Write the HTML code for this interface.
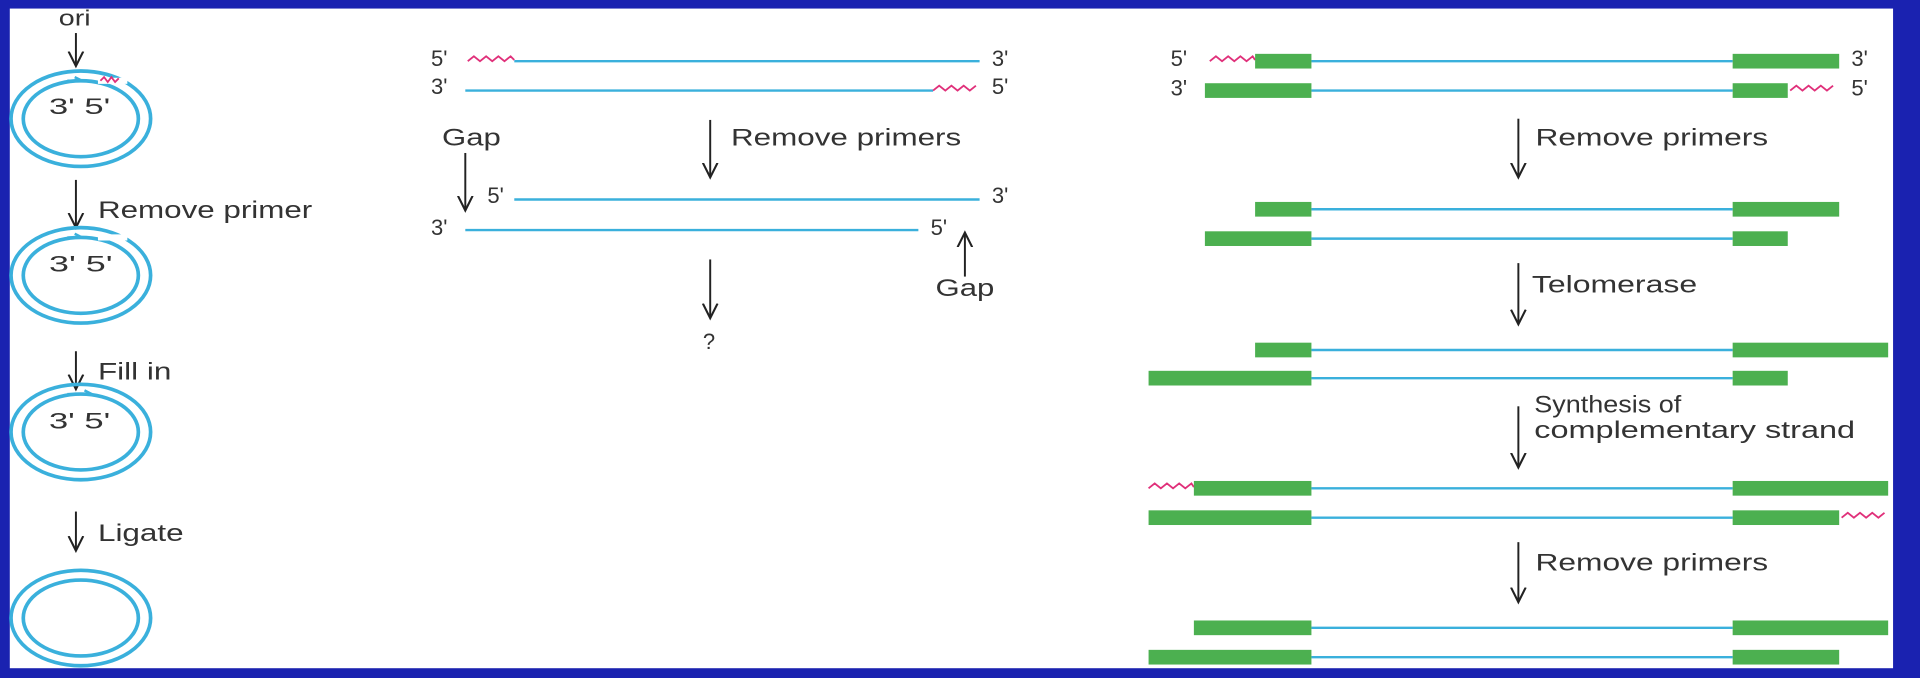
<!DOCTYPE html>
<html><head><style>html,body{margin:0;padding:0;background:#1a22b0;}svg{display:block}</style></head>
<body>
<svg width="1920" height="678" viewBox="0 0 1568 554" preserveAspectRatio="none" xmlns="http://www.w3.org/2000/svg" font-family="Liberation Sans, sans-serif" fill="#333">
<rect x="0" y="0" width="1568" height="554" fill="#1a22b0"/>
<rect x="8" y="7" width="1538" height="539" fill="#fff"/>
<defs>
<marker id="ah" markerWidth="14" markerHeight="14" refX="12" refY="7" orient="auto" markerUnits="userSpaceOnUse">
<path d="M0,1 L12,7 L0,13" fill="none" stroke="#222" stroke-width="1.7"/></marker>
</defs>
<g stroke="#222" stroke-width="1.6" fill="none">
<line x1="62" y1="27" x2="62" y2="54" marker-end="url(#ah)"/>
<line x1="62" y1="147" x2="62" y2="186" marker-end="url(#ah)"/>
<line x1="62" y1="287" x2="62" y2="318" marker-end="url(#ah)"/>
<line x1="62" y1="418" x2="62" y2="450" marker-end="url(#ah)"/>
<line x1="380" y1="125" x2="380" y2="172" marker-end="url(#ah)"/>
<line x1="580" y1="98" x2="580" y2="145" marker-end="url(#ah)"/>
<line x1="580" y1="212" x2="580" y2="260" marker-end="url(#ah)"/>
<line x1="788" y1="226" x2="788" y2="190" marker-end="url(#ah)"/>
<line x1="1240" y1="97" x2="1240" y2="145" marker-end="url(#ah)"/>
<line x1="1240" y1="215" x2="1240" y2="265" marker-end="url(#ah)"/>
<line x1="1240" y1="332" x2="1240" y2="382" marker-end="url(#ah)"/>
<line x1="1240" y1="443" x2="1240" y2="492" marker-end="url(#ah)"/>
</g>
<g stroke="#3ab0dc" stroke-width="3" fill="none">
<ellipse cx="66" cy="97" rx="57" ry="39"/><ellipse cx="66" cy="97" rx="47" ry="31"/>
<ellipse cx="66" cy="225" rx="57" ry="39"/><ellipse cx="66" cy="225" rx="47" ry="31"/>
<ellipse cx="66" cy="353" rx="57" ry="39"/><ellipse cx="66" cy="353" rx="47" ry="31"/>
<ellipse cx="66" cy="505" rx="57" ry="39"/><ellipse cx="66" cy="505" rx="47" ry="31"/>
</g>
<g stroke="#fff" stroke-width="5"><line x1="80" y1="66" x2="104" y2="66"/><line x1="80" y1="194" x2="104" y2="194"/></g>
<path d="M82,66 l3,-3 3,4 3,-4 3,4 3,-3" stroke="#e0307a" stroke-width="1.5" fill="none"/>
<g stroke="#3ab0dc" stroke-width="2" fill="none"><path d="M55,66 l12,0 l-6,-3"/><path d="M55,194 l12,0 l-6,-3"/><path d="M55,322 l20,0 l-6,-3"/></g>
<g font-size="18">
<text x="48" y="21" textLength="26" lengthAdjust="spacingAndGlyphs">ori</text>
<text x="40" y="93" textLength="50" lengthAdjust="spacingAndGlyphs">3' 5'</text>
<text x="40" y="222" textLength="52" lengthAdjust="spacingAndGlyphs">3'  5'</text>
<text x="40" y="350" textLength="50" lengthAdjust="spacingAndGlyphs">3' 5'</text>
<g font-size="20">
<text x="80" y="178" textLength="175" lengthAdjust="spacingAndGlyphs">Remove primer</text>
<text x="80" y="310" textLength="60" lengthAdjust="spacingAndGlyphs">Fill in</text>
<text x="80" y="442" textLength="70" lengthAdjust="spacingAndGlyphs">Ligate</text>
<text x="361" y="119" textLength="48" lengthAdjust="spacingAndGlyphs">Gap</text>
<text x="597" y="119" textLength="188" lengthAdjust="spacingAndGlyphs">Remove primers</text>
<text x="764" y="242" textLength="48" lengthAdjust="spacingAndGlyphs">Gap</text>
<text x="1254" y="119" textLength="190" lengthAdjust="spacingAndGlyphs">Remove primers</text>
<text x="1251" y="239" textLength="135" lengthAdjust="spacingAndGlyphs">Telomerase</text>
<text x="1253" y="337" textLength="120" lengthAdjust="spacingAndGlyphs">Synthesis of</text>
<text x="1253" y="358" textLength="262" lengthAdjust="spacingAndGlyphs">complementary strand</text>
<text x="1254" y="466" textLength="190" lengthAdjust="spacingAndGlyphs">Remove primers</text>
</g>
<text x="352" y="54">5'</text><text x="352" y="77">3'</text>
<text x="810" y="54">3'</text><text x="810" y="77">5'</text>
<text x="398" y="166">5'</text><text x="810" y="166">3'</text>
<text x="352" y="192">3'</text><text x="760" y="192">5'</text>
<text x="574" y="285">?</text>
<text x="956" y="54">5'</text><text x="956" y="78">3'</text>
<text x="1512" y="54">3'</text><text x="1512" y="78">5'</text>
</g>
<g stroke="#3ab0dc" stroke-width="2">
<line x1="420" y1="50" x2="800" y2="50"/><line x1="380" y1="74" x2="762" y2="74"/>
<line x1="420" y1="163" x2="800" y2="163"/><line x1="380" y1="188" x2="750" y2="188"/>
<line x1="1071" y1="50" x2="1415" y2="50"/><line x1="1071" y1="74" x2="1415" y2="74"/>
<line x1="1071" y1="171" x2="1415" y2="171"/><line x1="1071" y1="195" x2="1415" y2="195"/>
<line x1="1071" y1="286" x2="1415" y2="286"/><line x1="1071" y1="309" x2="1415" y2="309"/>
<line x1="1071" y1="399" x2="1415" y2="399"/><line x1="1071" y1="423" x2="1415" y2="423"/>
<line x1="1071" y1="513" x2="1415" y2="513"/><line x1="1071" y1="537" x2="1415" y2="537"/>
</g>
<g stroke="#e0307a" stroke-width="1.5" fill="none">
<path d="M382,50 l5,-4 5,4 5,-4 5,4 5,-4 5,4 5,-4 3,3"/>
<path d="M762,74 l5,-4 5,4 5,-4 5,4 5,-4 5,4 5,-4"/>
<path d="M988,50 l5,-4 5,4 5,-4 5,4 5,-4 5,4 5,-4 2,3"/>
<path d="M1462,74 l5,-4 5,4 5,-4 5,4 5,-4 5,4 5,-4"/>
<path d="M938,399 l5,-4 5,4 5,-4 5,4 5,-4 5,4 5,-4 2,3"/>
<path d="M1504,423 l5,-4 5,4 5,-4 5,4 5,-4 5,4 5,-4"/>
</g>
<g fill="#4cb050">
<rect x="1025" y="44" width="46" height="12"/><rect x="1415" y="44" width="87" height="12"/>
<rect x="984" y="68" width="87" height="12"/><rect x="1415" y="68" width="45" height="12"/>
<rect x="1025" y="165" width="46" height="12"/><rect x="1415" y="165" width="87" height="12"/>
<rect x="984" y="189" width="87" height="12"/><rect x="1415" y="189" width="45" height="12"/>
<rect x="1025" y="280" width="46" height="12"/><rect x="1415" y="280" width="127" height="12"/>
<rect x="938" y="303" width="133" height="12"/><rect x="1415" y="303" width="45" height="12"/>
<rect x="975" y="393" width="96" height="12"/><rect x="1415" y="393" width="127" height="12"/>
<rect x="938" y="417" width="133" height="12"/><rect x="1415" y="417" width="87" height="12"/>
<rect x="975" y="507" width="96" height="12"/><rect x="1415" y="507" width="127" height="12"/>
<rect x="938" y="531" width="133" height="12"/><rect x="1415" y="531" width="87" height="12"/>
</g>
</svg>
</body></html>
